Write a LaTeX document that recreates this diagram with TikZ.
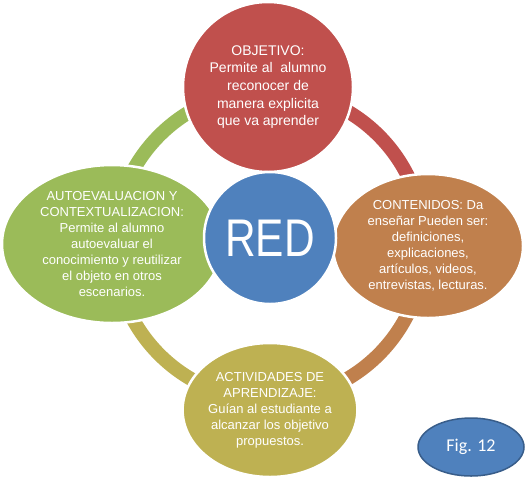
\documentclass[tikz,border=0pt]{standalone}
\usepackage{fontspec}
\setmainfont{Liberation Sans}
\newfontfamily\figfont{Carlito}
\usetikzlibrary{shapes.geometric}
\definecolor{objred}{RGB}{192,80,77}
\definecolor{redblue}{RGB}{79,129,189}
\definecolor{autogreen}{RGB}{155,187,89}
\definecolor{contbrown}{RGB}{192,128,77}
\definecolor{actolive}{RGB}{190,177,82}
\definecolor{figedge}{RGB}{56,93,138}

\begin{document}
\begin{tikzpicture}[
  x=1pt, y=-1pt,
  every node/.style={text=white, align=center, inner sep=0pt},
  part/.style={ellipse, draw=white, line width=2.5pt,
               font=\fontsize{13}{16}\selectfont},
  hub/.style={circle, draw=white, line width=2.5pt},
  ring/.style={line width=14pt}
]
\useasboundingbox (0,0) rectangle (526,480);

\coordinate (ctr) at (269,245);

% ring behind the parts
\draw[ring, autogreen] ([shift={(180:155)}]ctr) arc[start angle=180, end angle=270, radius=155];
\draw[ring, objred]    ([shift={(270:155)}]ctr) arc[start angle=270, end angle=360, radius=155];
\draw[ring, contbrown] ([shift={(0:155)}]ctr)   arc[start angle=0,   end angle=90,  radius=155];
\draw[ring, actolive]  ([shift={(90:155)}]ctr)  arc[start angle=90,  end angle=180, radius=155];

% parts
\node[hub, fill=objred, minimum size=170pt, font=\fontsize{14}{17.7}\selectfont] (obj) at (268,87)
  {OBJETIVO:\\Permite al\ \ alumno\\reconocer de\\manera explicita\\que va aprender};
\node[part, fill=autogreen, minimum width=220pt, minimum height=158pt] (auto) at (112,244)
  {AUTOEVALUACION Y\\CONTEXTUALIZACION:\\Permite al alumno\\autoevaluar el\\conocimiento y reutilizar\\el objeto en otros\\escenarios.};
\node[part, fill=contbrown, minimum width=190pt, minimum height=144pt] (cont) at (428,246)
  {CONTENIDOS: Da\\enseñar Pueden ser:\\definiciones,\\explicaciones,\\artículos, videos,\\entrevistas, lecturas.};
\node[part, fill=actolive, minimum width=166pt, minimum height=134pt] (act) at (270,410)
  {ACTIVIDADES DE\\APRENDIZAJE:\\Guían al estudiante a\\alcanzar los objetivo\\propuestos.};

% centre
\node[hub, fill=redblue, minimum size=132pt, font=\fontsize{53}{53}\selectfont] (red) at (270,238)
  {\scalebox{0.8}[1]{RED}};

% caption
\node[ellipse, draw=figedge, line width=1.5pt, fill=redblue, minimum width=106pt, minimum height=58pt,
      font=\figfont\fontsize{18}{18}\selectfont] (fig) at (471,447) {Fig. 12};

\end{tikzpicture}
\end{document}
